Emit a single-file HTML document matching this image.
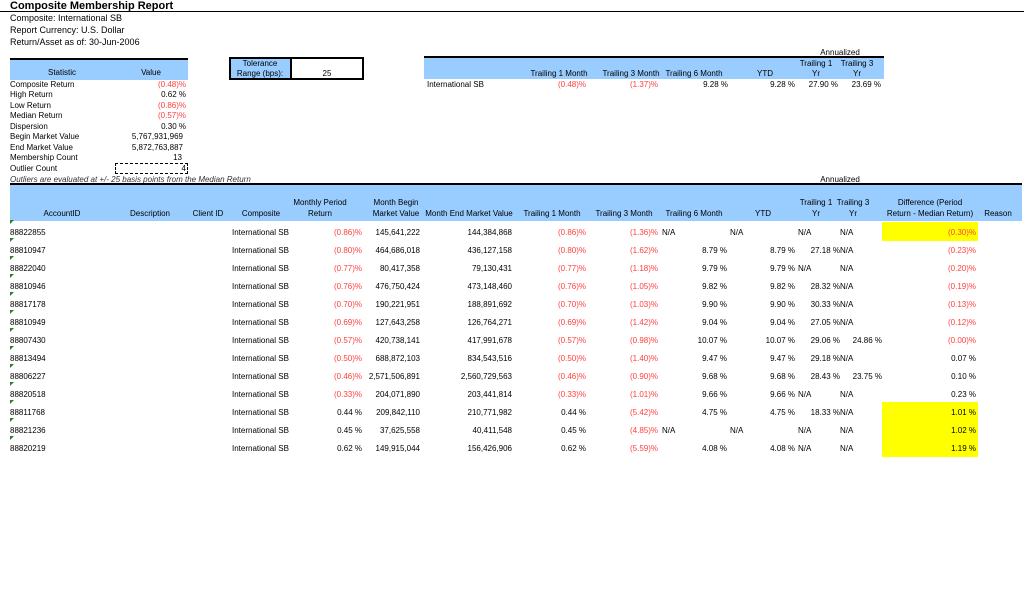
<!DOCTYPE html>
<html><head><meta charset="utf-8"><style>
*{margin:0;padding:0;box-sizing:border-box}
body{width:1024px;height:593px;background:#fff;position:relative;overflow:hidden;font-family:"Liberation Sans",sans-serif;font-size:8px;color:#000}
div,span{position:absolute;white-space:nowrap;line-height:10px}
.red{color:#ff4040}
.h{text-align:center;width:120px;margin-left:-60px}
.bl{background:#99ccff}
.row span.a{left:10px}.row span.b{left:232px}
.row .c{right:662px}.row .d{right:604px}.row .e{right:512px}.row .f{right:438px}.row .g{right:366px}
.row .t6{right:297px}.row .t6n{left:662px}.row .y{right:229px}.row .yn{left:730px}
.row .t1{right:184px}.row .t1n{left:798px}.row .t3{right:142px}.row .t3n{left:840px}.row .df{right:48px}
.row{left:0;width:1024px;height:10px}
.yel{background:#ffff00;left:882px;width:96px;height:19px;top:-6px}
.gm{left:10px;top:-8px;width:0;height:0;border-left:4px solid #2e7d32;border-bottom:4px solid transparent}
.st{left:10px}.sv{right:838px}
</style></head><body>
<div style="left:10px;top:0;font-size:11px;font-weight:bold;line-height:12px">Composite Membership Report</div>
<div style="left:0;top:11px;width:1024px;height:1px;background:#000"></div>
<div style="left:10px;top:13px;font-size:9px;line-height:11px">Composite: International SB</div>
<div style="left:10px;top:25px;font-size:9px;line-height:11px">Report Currency: U.S. Dollar</div>
<div style="left:10px;top:37px;font-size:9px;line-height:11px">Return/Asset as of: 30-Jun-2006</div>

<div class="bl" style="left:10px;top:58px;width:178px;height:22px;border-top:2px solid #000"></div>
<div class="h" style="left:62px;top:68px">Statistic</div>
<div class="h" style="left:151px;top:68px">Value</div>
<div class="st" style="top:80px">Composite Return</div><div class="sv red" style="top:80px">(0.48)%</div>
<div class="st" style="top:90px">High Return</div><div class="sv" style="top:90px">0.62 %</div>
<div class="st" style="top:101px">Low Return</div><div class="sv red" style="top:101px">(0.86)%</div>
<div class="st" style="top:111px">Median Return</div><div class="sv red" style="top:111px">(0.57)%</div>
<div class="st" style="top:122px">Dispersion</div><div class="sv" style="top:122px">0.30 %</div>
<div class="st" style="top:132px">Begin Market Value</div><div style="top:132px;right:841px">5,767,931,969</div>
<div class="st" style="top:143px">End Market Value</div><div style="top:143px;right:841px">5,872,763,887</div>
<div class="st" style="top:153px">Membership Count</div><div style="top:153px;right:842px">13</div>
<div class="st" style="top:164px">Outlier Count</div>
<div style="left:115px;top:163px;width:73px;height:11px;border:1px dashed #000"></div>
<div style="top:164px;right:838px">4</div>
<div style="left:10px;top:175px;font-style:italic;color:#333">Outliers are evaluated at +/- 25 basis points from the Median Return</div>

<div style="left:229px;top:57px;width:135px;height:23px;border:2px solid #000"></div>
<div class="bl" style="left:231px;top:59px;width:61px;height:19px;border-right:2px solid #000"></div>
<div class="h" style="left:260px;top:59px">Tolerance</div>
<div class="h" style="left:260px;top:69px">Range (bps):</div>
<div class="h" style="left:327px;top:69px">25</div>

<div style="left:424px;top:56px;width:460px;height:2px;background:#000"></div>
<div class="bl" style="left:424px;top:58px;width:460px;height:21px"></div>
<div class="h" style="left:840px;top:48px">Annualized</div>
<div class="h" style="left:559px;top:69px">Trailing 1 Month</div>
<div class="h" style="left:631px;top:69px">Trailing 3 Month</div>
<div class="h" style="left:694px;top:69px">Trailing 6 Month</div>
<div class="h" style="left:765px;top:69px">YTD</div>
<div class="h" style="left:816px;top:59px">Trailing 1</div><div class="h" style="left:816px;top:69px">Yr</div>
<div class="h" style="left:857px;top:59px">Trailing 3</div><div class="h" style="left:857px;top:69px">Yr</div>
<div style="left:427px;top:80px">International SB</div>
<div class="red" style="top:80px;right:438px">(0.48)%</div>
<div class="red" style="top:80px;right:366px">(1.37)%</div>
<div style="top:80px;right:296px">9.28 %</div>
<div style="top:80px;right:229px">9.28 %</div>
<div style="top:80px;right:186px">27.90 %</div>
<div style="top:80px;right:143px">23.69 %</div>

<div class="h" style="left:840px;top:175px">Annualized</div>
<div style="left:10px;top:183px;width:1012px;height:2px;background:#000"></div>
<div class="bl" style="left:10px;top:185px;width:1012px;height:36px"></div>
<div class="h" style="left:62px;top:209px">AccountID</div>
<div class="h" style="left:150px;top:209px">Description</div>
<div class="h" style="left:208px;top:209px">Client ID</div>
<div class="h" style="left:261px;top:209px">Composite</div>
<div class="h" style="left:320px;top:198px">Monthly Period</div><div class="h" style="left:320px;top:209px">Return</div>
<div class="h" style="left:396px;top:198px">Month Begin</div><div class="h" style="left:396px;top:209px">Market Value</div>
<div class="h" style="left:469px;top:209px">Month End Market Value</div>
<div class="h" style="left:552px;top:209px">Trailing 1 Month</div>
<div class="h" style="left:624px;top:209px">Trailing 3 Month</div>
<div class="h" style="left:694px;top:209px">Trailing 6 Month</div>
<div class="h" style="left:763px;top:209px">YTD</div>
<div class="h" style="left:816px;top:198px">Trailing 1</div><div class="h" style="left:816px;top:209px">Yr</div>
<div class="h" style="left:853px;top:198px">Trailing 3</div><div class="h" style="left:853px;top:209px">Yr</div>
<div class="h" style="left:930px;top:198px">Difference (Period</div><div class="h" style="left:930px;top:209px">Return -  Median Return)</div>
<div class="h" style="left:998px;top:209px">Reason</div>

<div class="row" style="top:228px"><span class="yel"></span><span class="gm"></span><span class="a">88822855</span><span class="b">International SB</span><span class="c red">(0.86)%</span><span class="d">145,641,222</span><span class="e">144,384,868</span><span class="f red">(0.86)%</span><span class="g red">(1.36)%</span><span class="t6n">N/A</span><span class="yn">N/A</span><span class="t1n">N/A</span><span class="t3n">N/A</span><span class="df red">(0.30)%</span></div>
<div class="row" style="top:246px"><span class="gm"></span><span class="a">88810947</span><span class="b">International SB</span><span class="c red">(0.80)%</span><span class="d">464,686,018</span><span class="e">436,127,158</span><span class="f red">(0.80)%</span><span class="g red">(1.62)%</span><span class="t6">8.79 %</span><span class="y">8.79 %</span><span class="t1">27.18 %</span><span class="t3n">N/A</span><span class="df red">(0.23)%</span></div>
<div class="row" style="top:264px"><span class="gm"></span><span class="a">88822040</span><span class="b">International SB</span><span class="c red">(0.77)%</span><span class="d">80,417,358</span><span class="e">79,130,431</span><span class="f red">(0.77)%</span><span class="g red">(1.18)%</span><span class="t6">9.79 %</span><span class="y">9.79 %</span><span class="t1n">N/A</span><span class="t3n">N/A</span><span class="df red">(0.20)%</span></div>
<div class="row" style="top:282px"><span class="gm"></span><span class="a">88810946</span><span class="b">International SB</span><span class="c red">(0.76)%</span><span class="d">476,750,424</span><span class="e">473,148,460</span><span class="f red">(0.76)%</span><span class="g red">(1.05)%</span><span class="t6">9.82 %</span><span class="y">9.82 %</span><span class="t1">28.32 %</span><span class="t3n">N/A</span><span class="df red">(0.19)%</span></div>
<div class="row" style="top:300px"><span class="gm"></span><span class="a">88817178</span><span class="b">International SB</span><span class="c red">(0.70)%</span><span class="d">190,221,951</span><span class="e">188,891,692</span><span class="f red">(0.70)%</span><span class="g red">(1.03)%</span><span class="t6">9.90 %</span><span class="y">9.90 %</span><span class="t1">30.33 %</span><span class="t3n">N/A</span><span class="df red">(0.13)%</span></div>
<div class="row" style="top:318px"><span class="gm"></span><span class="a">88810949</span><span class="b">International SB</span><span class="c red">(0.69)%</span><span class="d">127,643,258</span><span class="e">126,764,271</span><span class="f red">(0.69)%</span><span class="g red">(1.42)%</span><span class="t6">9.04 %</span><span class="y">9.04 %</span><span class="t1">27.05 %</span><span class="t3n">N/A</span><span class="df red">(0.12)%</span></div>
<div class="row" style="top:336px"><span class="gm"></span><span class="a">88807430</span><span class="b">International SB</span><span class="c red">(0.57)%</span><span class="d">420,738,141</span><span class="e">417,991,678</span><span class="f red">(0.57)%</span><span class="g red">(0.98)%</span><span class="t6">10.07 %</span><span class="y">10.07 %</span><span class="t1">29.06 %</span><span class="t3">24.86 %</span><span class="df red">(0.00)%</span></div>
<div class="row" style="top:354px"><span class="gm"></span><span class="a">88813494</span><span class="b">International SB</span><span class="c red">(0.50)%</span><span class="d">688,872,103</span><span class="e">834,543,516</span><span class="f red">(0.50)%</span><span class="g red">(1.40)%</span><span class="t6">9.47 %</span><span class="y">9.47 %</span><span class="t1">29.18 %</span><span class="t3n">N/A</span><span class="df">0.07 %</span></div>
<div class="row" style="top:372px"><span class="gm"></span><span class="a">88806227</span><span class="b">International SB</span><span class="c red">(0.46)%</span><span class="d">2,571,506,891</span><span class="e">2,560,729,563</span><span class="f red">(0.46)%</span><span class="g red">(0.90)%</span><span class="t6">9.68 %</span><span class="y">9.68 %</span><span class="t1">28.43 %</span><span class="t3">23.75 %</span><span class="df">0.10 %</span></div>
<div class="row" style="top:390px"><span class="gm"></span><span class="a">88820518</span><span class="b">International SB</span><span class="c red">(0.33)%</span><span class="d">204,071,890</span><span class="e">203,441,814</span><span class="f red">(0.33)%</span><span class="g red">(1.01)%</span><span class="t6">9.66 %</span><span class="y">9.66 %</span><span class="t1n">N/A</span><span class="t3n">N/A</span><span class="df">0.23 %</span></div>
<div class="row" style="top:408px"><span class="yel"></span><span class="gm"></span><span class="a">88811768</span><span class="b">International SB</span><span class="c">0.44 %</span><span class="d">209,842,110</span><span class="e">210,771,982</span><span class="f">0.44 %</span><span class="g red">(5.42)%</span><span class="t6">4.75 %</span><span class="y">4.75 %</span><span class="t1">18.33 %</span><span class="t3n">N/A</span><span class="df">1.01 %</span></div>
<div class="row" style="top:426px"><span class="yel"></span><span class="gm"></span><span class="a">88821236</span><span class="b">International SB</span><span class="c">0.45 %</span><span class="d">37,625,558</span><span class="e">40,411,548</span><span class="f">0.45 %</span><span class="g red">(4.85)%</span><span class="t6n">N/A</span><span class="yn">N/A</span><span class="t1n">N/A</span><span class="t3n">N/A</span><span class="df">1.02 %</span></div>
<div class="row" style="top:444px"><span class="yel"></span><span class="gm"></span><span class="a">88820219</span><span class="b">International SB</span><span class="c">0.62 %</span><span class="d">149,915,044</span><span class="e">156,426,906</span><span class="f">0.62 %</span><span class="g red">(5.59)%</span><span class="t6">4.08 %</span><span class="y">4.08 %</span><span class="t1n">N/A</span><span class="t3n">N/A</span><span class="df">1.19 %</span></div>
</body></html>
